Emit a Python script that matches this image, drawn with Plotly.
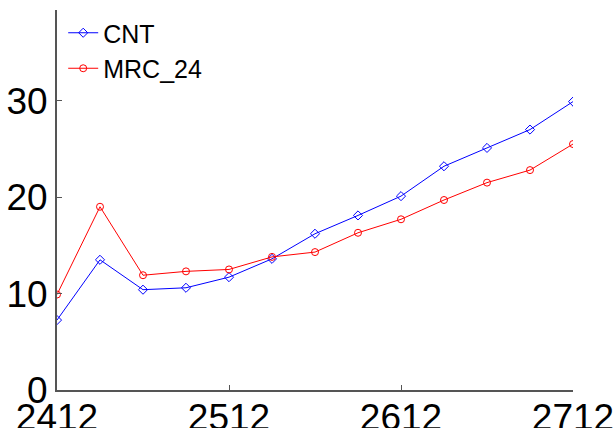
import plotly.graph_objects as go

x_vals = [2412, 2437, 2462, 2487, 2512, 2537, 2562, 2587, 2612, 2637, 2662, 2687, 2712]
cnt = [7.25, 13.5, 10.4, 10.6, 11.7, 13.6, 16.2, 18.1, 20.1, 23.2, 25.1, 27.0, 29.9]
mrc_24 = [9.9, 19.0, 11.9, 12.3, 12.5, 13.8, 14.3, 16.3, 17.7, 19.7, 21.5, 22.8, 25.5]
x_ticks = [2412, 2512, 2612, 2712]
y_ticks = [0, 10, 20, 30]

fig = go.Figure()
fig.add_trace(go.Scatter(x=x_vals, y=cnt, name="CNT", mode="lines+markers",
                         line=dict(color="#0000ff", width=1),
                         marker=dict(symbol="diamond-open", size=7, color="#0000ff", line=dict(width=1))))
fig.add_trace(go.Scatter(x=x_vals, y=mrc_24, name="MRC_24", mode="lines+markers",
                         line=dict(color="#ff0000", width=1),
                         marker=dict(symbol="circle-open", size=7, color="#ff0000", line=dict(width=1))))

axis_font = dict(family="Liberation Sans, Arial, sans-serif", size=37, color="black")
fig.update_layout(
    width=614, height=428,
    margin=dict(l=57, r=41, t=10, b=38),
    plot_bgcolor="white", paper_bgcolor="white",
    showlegend=True,
    legend=dict(x=0.012, y=1.0, xanchor="left", yanchor="top", bgcolor="rgba(0,0,0,0)",
                font=dict(family="Liberation Sans, Arial, sans-serif", size=25, color="black"),
                tracegroupgap=0, itemwidth=30),
    xaxis=dict(range=[2412, 2712], tickvals=x_ticks, ticktext=[str(v) for v in x_ticks],
               showgrid=False, zeroline=False, showline=True, linecolor="#555555", linewidth=2,
               ticks="inside", ticklen=5, tickcolor="#555555", tickfont=axis_font,
               automargin=False, ticklabeloverflow="allow", ticklabelstandoff=-6),
    yaxis=dict(range=[0, 39.4], tickvals=y_ticks, ticktext=[str(v) for v in y_ticks],
               showgrid=False, zeroline=False, showline=True, linecolor="#555555", linewidth=2,
               ticks="inside", ticklen=5, tickcolor="#555555", tickfont=axis_font,
               automargin=False, ticklabeloverflow="allow"),
)
fig.write_html("out.html")
